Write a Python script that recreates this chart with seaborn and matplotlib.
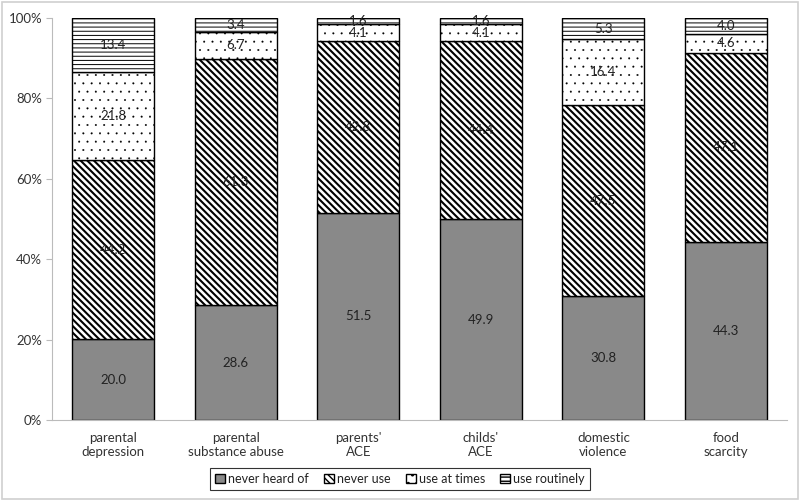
import seaborn as sns
import matplotlib.pyplot as plt
import matplotlib.patches as mpatches
import numpy as np
import pandas as pd

# data
categories = ["parental\ndepression", "parental\nsubstance abuse", "parents'\nACE",
              "childs'\nACE", "domestic\nviolence", "food\nscarcity"]
never_heard = [20.0, 28.6, 51.5, 49.9, 30.8, 44.3]
never_use = [44.2, 61.3, 42.8, 44.4, 47.5, 47.1]
use_at_times = [21.8, 6.7, 4.1, 4.1, 16.4, 4.6]
use_routinely = [13.4, 3.4, 1.6, 1.6, 5.3, 4.0]

series_names = ["never heard of", "never use", "use at times", "use routinely"]
series = [never_heard, never_use, use_at_times, use_routinely]
faces = ["#898989", "white", "white", "white"]
hatches = [None, "\\\\\\\\\\", "..", "----"]
hatch_lw = [1.0, 1.5, 0.2, 0.7]

sns.set_style("white")
plt.rcParams['font.family'] = ['Lato', 'DejaVu Sans']

fig = plt.figure(figsize=(8, 5.01), dpi=100)
ax = fig.add_axes([0.065, 0.1617, 0.919, 0.8023])

raw = np.array(series)
pct = raw / raw.sum(axis=0) * 100  # 100% stacked, like excel
bottom = np.zeros(len(categories))
handles = []
for i, name in enumerate(series_names):
    df = pd.DataFrame({"cat": categories, "val": pct[i]})
    with plt.rc_context({'hatch.linewidth': hatch_lw[i]}):
        sns.barplot(data=df, x="cat", y="val", bottom=bottom, width=0.67,
                    color=faces[i], edgecolor="black", linewidth=1.0, ax=ax)
        cont = ax.containers[-1]
        for p in cont:
            p.set_facecolor(faces[i])
            p.set_edgecolor("black")
            if hatches[i]:
                p.set_hatch(hatches[i])
            if hasattr(p, "set_hatch_linewidth"):
                p.set_hatch_linewidth(hatch_lw[i])
        h = mpatches.Patch(facecolor=faces[i], edgecolor="black",
                           hatch=hatches[i], label=name)
        if hasattr(h, "set_hatch_linewidth"):
            h.set_hatch_linewidth(hatch_lw[i])
        handles.append(h)
    ax.bar_label(cont, labels=[f"{v:.1f}" for v in series[i]], label_type="center",
                 fontsize=9.5, color="#222222")
    bottom = bottom + pct[i]

ax.set_ylim(0, 100)
ax.set_xlim(-0.5, len(categories) - 0.5)
ax.set_yticks(range(0, 101, 20))
ax.set_yticklabels([f"{t}%" for t in range(0, 101, 20)], fontsize=9.5, color="#333333")
ax.tick_params(axis="x", labelsize=9.5, labelcolor="#333333", length=0, pad=9)
ax.tick_params(axis="y", length=4, color="#bbbbbb", left=True, pad=3)
ax.set_xlabel("")
ax.set_ylabel("")
for s in ["top", "right"]:
    ax.spines[s].set_visible(False)
ax.spines["left"].set_color("#bbbbbb")
ax.spines["bottom"].set_color("#bbbbbb")

leg = fig.legend(handles=handles, loc="center", bbox_to_anchor=(0.5, 0.044), ncol=4,
                 frameon=True, fancybox=False, edgecolor="black", fontsize=9,
                 handlelength=0.8, handleheight=0.8, handletextpad=0.25,
                 columnspacing=1.2, borderpad=0.4)
leg.get_frame().set_linewidth(0.8)
for t in leg.get_texts():
    t.set_color("#222222")

fig.patches.append(mpatches.Rectangle((0.003, 0.003), 0.994, 0.994, transform=fig.transFigure,
                                      fill=False, edgecolor="#d0d0d0", linewidth=1.2))

fig.savefig("out.png", dpi=100)
